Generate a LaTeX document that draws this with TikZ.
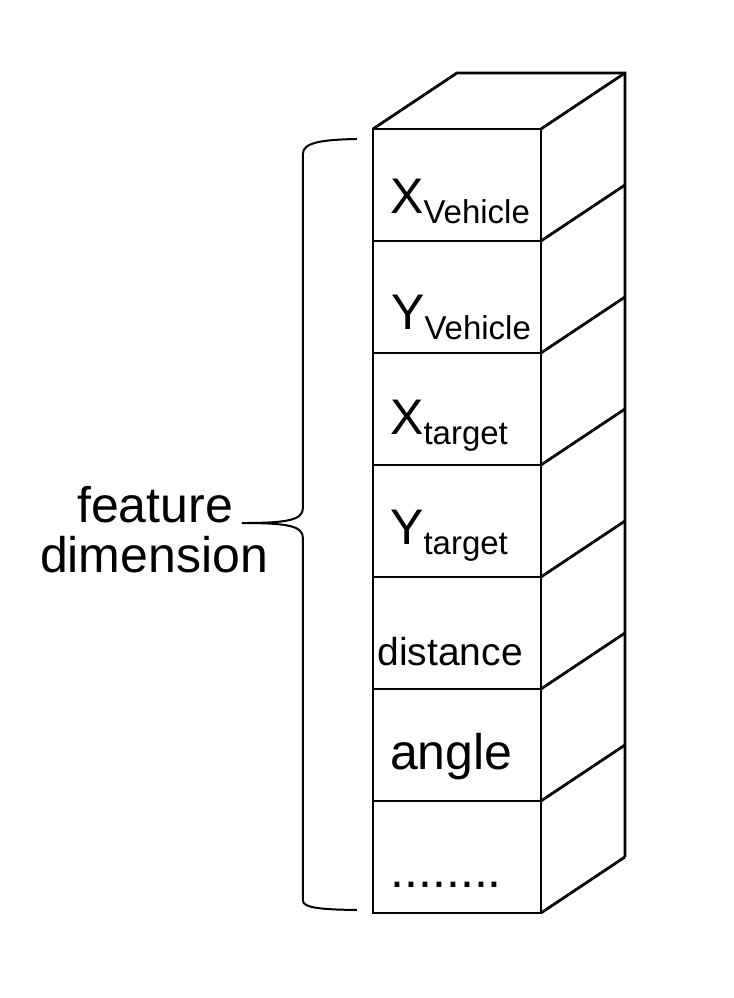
\documentclass[tikz,border=0pt]{standalone}
\usepackage{fontspec}
\setmainfont{Liberation Sans}
\newcommand{\featsub}[1]{\raisebox{-10pt}{\fontsize{33}{33}\selectfont #1}}
\tikzset{
  cell/.style={line width=2.8pt},
  celltext/.style={anchor=base west,inner sep=0pt,font=\fontsize{50}{51}\selectfont},
  sidetext/.style={anchor=base,inner sep=0pt,font=\fontsize{50}{51}\selectfont}
}
\begin{document}
\begin{tikzpicture}[x=112pt,y=112pt]
\useasboundingbox (-3.330,-0.759) rectangle (3.223,8.152);
% front face and rows
\draw[cell] (0,0) rectangle (1.5,7);
\foreach \y in {1,...,6}
\draw[cell] (0,\y) -- (1.5,\y);
% side face
\foreach \y in {0,...,7}
\draw[cell] (1.5,\y) -- ++(0.75,0.5);
\draw[cell] (0,7) -- (0.75,7.5) -- (2.25,7.5) -- (2.25,0.5);
% entries
\node[celltext] (xveh) at (0.152,6.25) {X\featsub{Vehicle}};
\node[celltext] (yveh) at (0.161,5.214) {Y\featsub{Vehicle}};
\node[celltext] (xtar) at (0.152,4.268) {X\featsub{target}};
\node[celltext] (ytar) at (0.152,3.286) {Y\featsub{target}};
\node[celltext,font=\fontsize{39}{39}\selectfont] (dist) at (0.040,2.214) {distance};
\node[celltext] (ang) at (0.152,1.277) {angle};
\node[celltext] (more) at (0.156,0.232) {........};
% brace
\draw[line width=2pt] (-0.143,6.911) .. controls (-0.45,6.905) and (-0.625,6.88) .. (-0.625,6.78)
  -- (-0.625,3.62) .. controls (-0.625,3.51) and (-0.75,3.482) .. (-1.170,3.482)
  .. controls (-0.75,3.482) and (-0.625,3.455) .. (-0.625,3.345)
  -- (-0.625,0.11) .. controls (-0.625,0.045) and (-0.45,0.03) .. (-0.143,0.027);
\node[sidetext] (feat) at (-1.946,3.491) {feature};
\node[sidetext] (dim) at (-1.955,3.036) {dimension};
\end{tikzpicture}
\end{document}
